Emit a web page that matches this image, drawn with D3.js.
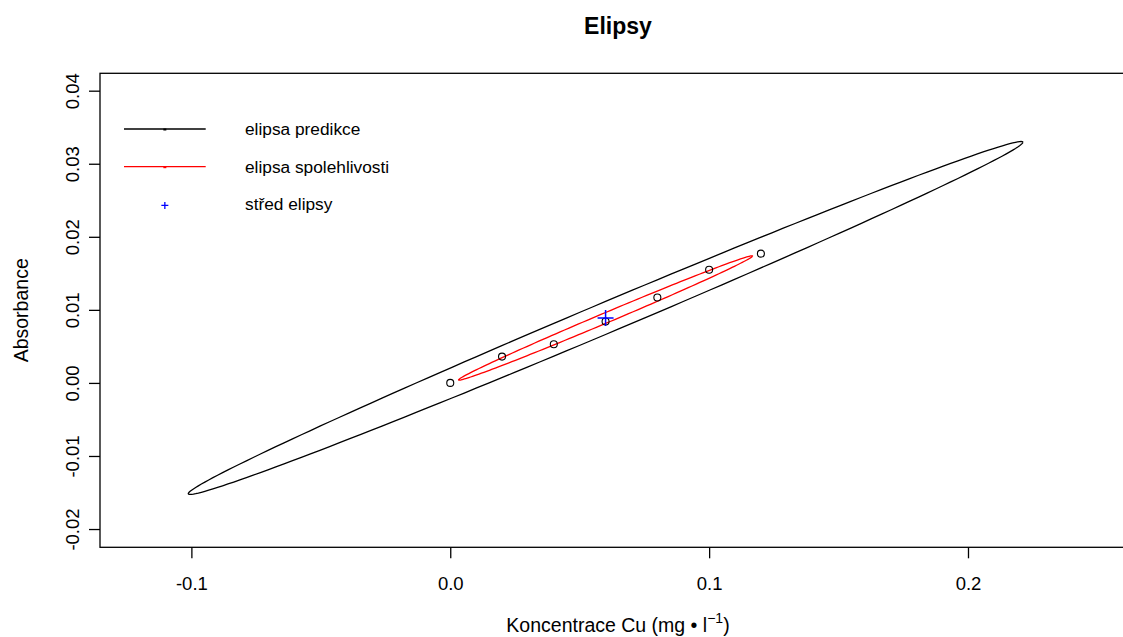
<!DOCTYPE html>
<html>
<head>
<meta charset="utf-8">
<script src="https://cdn.jsdelivr.net/npm/d3@7/dist/d3.min.js"></script>
<style>
  html, body { margin: 0; padding: 0; background: #fff; }
  svg { display: block; }
  text { font-family: "Liberation Sans", Arial, sans-serif; fill: #000; }
</style>
</head>
<body>
<svg id="chart" width="1123" height="637"></svg>
<script>
// ---------------- data ----------------
const concentrations = [0.00, 0.02, 0.04, 0.06, 0.08, 0.10, 0.12];
const absorbances    = [0.0000, 0.0036, 0.0053, 0.0084, 0.0117, 0.0155, 0.0177];

const ellipseCenter = [0.0600, 0.00889];
// conjugate semi-diameters: vector to the x-extreme point, and vertical half-height
const predictionAxis = [0.1612, 0.02405];
const predictionHalfHeight = 0.00226;
const confidenceAxis = [0.0568, 0.00848];
const confidenceHalfHeight = 0.00075;

const xLimits = [-0.1353, 0.2649];
const yLimits = [-0.0225, 0.04238];
const xTicks = [-0.1, 0.0, 0.1, 0.2];
const xTickLabels = ["-0.1", "0.0", "0.1", "0.2"];
const yTicks = [-0.02, -0.01, 0.00, 0.01, 0.02, 0.03, 0.04];
const yTickLabels = ["-0.02", "-0.01", "0.00", "0.01", "0.02", "0.03", "0.04"];

const titleText = "Elipsy";
const yTitle = "Absorbance";
const legendLabels = ["elipsa predikce", "elipsa spolehlivosti", "st\u0159ed elipsy"];
const legendColors = ["#000000", "#ff0000", "#0000ff"];

// ---------------- layout ----------------
const svg = d3.select("#chart");
const pLeft = 100, pRight = 1136, pTop = 73.3, pBottom = 547.3;

const x = d3.scaleLinear().domain(xLimits).range([pLeft, pRight]);
const y = d3.scaleLinear().domain(yLimits).range([pBottom, pTop]);

svg.append("defs").append("clipPath").attr("id", "clip")
  .append("rect").attr("x", pLeft).attr("y", pTop)
  .attr("width", pRight - pLeft).attr("height", pBottom - pTop);

// ellipse outline from centre + conjugate semi-diameters
function ellipsePoints(center, axis, halfHeight, n) {
  return d3.range(n + 1).map(i => {
    const t = 2 * Math.PI * i / n;
    return [center[0] + axis[0] * Math.cos(t),
            center[1] + axis[1] * Math.cos(t) + halfHeight * Math.sin(t)];
  });
}
const lineGen = d3.line().x(d => x(d[0])).y(d => y(d[1]));

const plot = svg.append("g").attr("clip-path", "url(#clip)");

plot.append("path")
  .attr("d", lineGen(ellipsePoints(ellipseCenter, predictionAxis, predictionHalfHeight, 200)))
  .attr("fill", "none").attr("stroke", "#000").attr("stroke-width", 1.3);

plot.append("path")
  .attr("d", lineGen(ellipsePoints(ellipseCenter, confidenceAxis, confidenceHalfHeight, 200)))
  .attr("fill", "none").attr("stroke", "#ff0000").attr("stroke-width", 1.3);

plot.selectAll("circle.pt").data(concentrations).enter().append("circle")
  .attr("class", "pt")
  .attr("cx", d => x(d))
  .attr("cy", (d, i) => y(absorbances[i]))
  .attr("r", 3.5)
  .attr("fill", "none").attr("stroke", "#000").attr("stroke-width", 1.1);

// centre marker
const cX = x(ellipseCenter[0]), cY = y(ellipseCenter[1]);
plot.append("path")
  .attr("d", `M${cX - 8},${cY}H${cX + 8}M${cX},${cY - 8}V${cY + 8}`)
  .attr("stroke", "#0000ff").attr("stroke-width", 1.5).attr("fill", "none");

// box
svg.append("rect").attr("x", pLeft).attr("y", pTop)
  .attr("width", pRight - pLeft).attr("height", pBottom - pTop)
  .attr("fill", "none").attr("stroke", "#000").attr("stroke-width", 1.3);

// x axis
const xAxisG = svg.append("g").attr("transform", `translate(0,${pBottom})`)
  .call(d3.axisBottom(x).tickValues(xTicks).tickSize(11)
    .tickFormat((d, i) => xTickLabels[i]));
xAxisG.select(".domain").remove();
xAxisG.selectAll(".tick line").attr("stroke", "#000").attr("stroke-width", 1.3);
xAxisG.selectAll(".tick text")
  .attr("y", 42.7).attr("dy", 0)
  .style("font-family", "'Liberation Sans', Arial, sans-serif")
  .style("font-size", "18.5px").attr("fill", "#000");

// y axis
const yAxisG = svg.append("g").attr("transform", `translate(${pLeft},0)`)
  .call(d3.axisLeft(y).tickValues(yTicks).tickSize(11)
    .tickFormat((d, i) => yTickLabels[i]));
yAxisG.select(".domain").remove();
yAxisG.selectAll(".tick line").attr("stroke", "#000").attr("stroke-width", 1.3);
yAxisG.selectAll(".tick text")
  .attr("x", 0).attr("y", 0).attr("dy", 0)
  .attr("transform", "translate(-21,0) rotate(-90)")
  .attr("text-anchor", "middle")
  .style("font-family", "'Liberation Sans', Arial, sans-serif")
  .style("font-size", "18.5px").attr("fill", "#000");

// title
svg.append("text").attr("x", (pLeft + pRight) / 2).attr("y", 34)
  .attr("text-anchor", "middle")
  .style("font-size", "23px").style("font-weight", "bold")
  .text(titleText);

// x title with superscript
const xt = svg.append("text").attr("x", (pLeft + pRight) / 2).attr("y", 631.5)
  .attr("text-anchor", "middle").style("font-size", "19.5px");
xt.append("tspan").text("Koncentrace Cu (mg \u2022 l");
xt.append("tspan").attr("dy", -9).style("font-size", "14px").text("\u22121");
xt.append("tspan").attr("dy", 9).text(")");

// y title
svg.append("text")
  .attr("transform", `translate(28,${(pTop + pBottom) / 2}) rotate(-90)`)
  .attr("text-anchor", "middle").style("font-size", "19.5px")
  .text(yTitle);

// legend
const legX0 = 124, legX1 = 205.7, legTextX = 245;
const rowY = i => 130 + i * 37.7;
const leg = svg.append("g");
legendLabels.forEach((lab, i) => {
  const ry = rowY(i);
  if (i < 2) {
    leg.append("line").attr("x1", legX0).attr("x2", legX1)
      .attr("y1", ry - 1).attr("y2", ry - 1)
      .attr("stroke", legendColors[i]).attr("stroke-width", 1.3);
    leg.append("rect").attr("x", (legX0 + legX1) / 2 - 1.5).attr("y", ry - 1.5)
      .attr("width", 3).attr("height", 2).attr("fill", legendColors[i]);
  } else {
    const px = (legX0 + legX1) / 2;
    leg.append("path")
      .attr("d", `M${px - 3.5},${ry}H${px + 3.5}M${px},${ry - 3.5}V${ry + 3.5}`)
      .attr("stroke", legendColors[i]).attr("stroke-width", 1.3);
  }
  leg.append("text").attr("x", legTextX).attr("y", ry + 5)
    .style("font-size", "17.3px").text(lab);
});
</script>
</body>
</html>
